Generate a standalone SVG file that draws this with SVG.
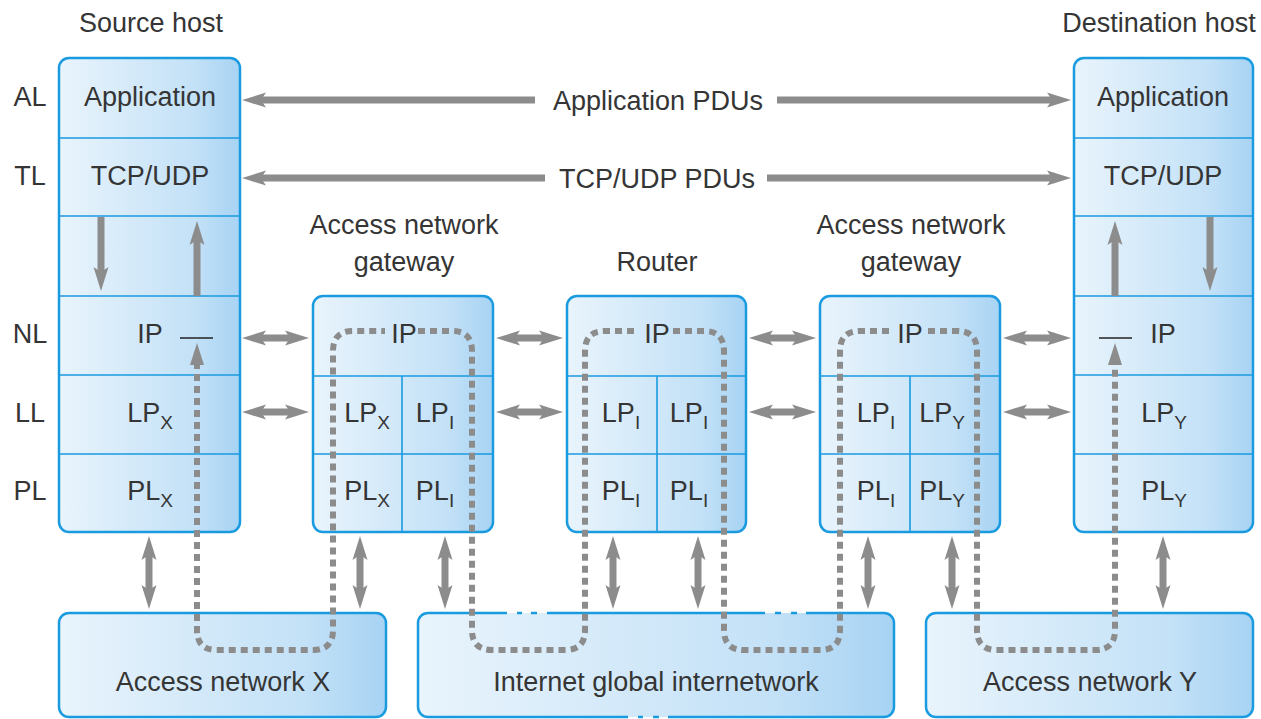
<svg xmlns="http://www.w3.org/2000/svg" width="1261" height="719" viewBox="0 0 1261 719">
<defs>
<linearGradient id="bg" x1="0" y1="0" x2="1" y2="0">
<stop offset="0" stop-color="#e9f4fc"/>
<stop offset="0.75" stop-color="#c3e1f7"/>
<stop offset="1" stop-color="#a7d3f3"/>
</linearGradient>
<marker id="ah" markerUnits="userSpaceOnUse" markerWidth="24" markerHeight="18" viewBox="0 0 24 18" refX="7" refY="9" orient="auto-start-reverse">
<path d="M0,1.5 L24,9 L0,16.5 L5,9 Z" fill="#8c8c8c"/>
</marker>
<style>
.box{fill:url(#bg);stroke:#1a9be0;stroke-width:2.5}
.fill{fill:url(#bg);stroke:none}
.edge{fill:none;stroke:#1a9be0;stroke-width:2.5}
.div{stroke:#1a9be0;stroke-width:1.6;fill:none}
.t{font-family:"Liberation Sans",Arial,sans-serif;font-size:27px;fill:#353535;text-anchor:middle}
.sub{font-size:19px}
.arr{stroke:#8c8c8c;stroke-width:7;fill:none}
.dash{stroke:#8c8c8c;stroke-width:6;fill:none;stroke-dasharray:7 5}
.tick{stroke:#222;stroke-width:1.6}
</style>
</defs>

<g id="titles">
<text class="t" x="151" y="32">Source host</text>
<text class="t" x="1159" y="32">Destination host</text>
<text class="t" x="30" y="106">AL</text>
<text class="t" x="30" y="185">TL</text>
<text class="t" x="30" y="343">NL</text>
<text class="t" x="30" y="422">LL</text>
<text class="t" x="30" y="500">PL</text>
<text class="t" x="404" y="234">Access network</text>
<text class="t" x="404" y="271">gateway</text>
<text class="t" x="657" y="271">Router</text>
<text class="t" x="911" y="234">Access network</text>
<text class="t" x="911" y="271">gateway</text>
</g>

<g id="source-host">
<rect class="box" x="59" y="58" width="181" height="474" rx="10"/>
<path class="div" d="M59,138H240M59,216H240M59,296H240M59,375H240M59,454H240"/>
<text class="t" x="150" y="106">Application</text>
<text class="t" x="150" y="185">TCP/UDP</text>
<text class="t" x="150" y="343">IP</text>
<line class="tick" x1="180" y1="338" x2="213" y2="338"/>
<text class="t" x="150" y="422">LP<tspan class="sub" dy="7">X</tspan></text>
<text class="t" x="150" y="500">PL<tspan class="sub" dy="7">X</tspan></text>
</g>

<g id="gateway-x">
<rect class="box" x="313" y="296" width="180" height="236" rx="10"/>
<path class="div" d="M313,376H493M313,454H493M402,376V532"/>
<text class="t" x="404" y="343">IP</text>
<text class="t" x="367" y="422">LP<tspan class="sub" dy="7">X</tspan></text>
<text class="t" x="367" y="500">PL<tspan class="sub" dy="7">X</tspan></text>
<text class="t" x="435" y="422">LP<tspan class="sub" dy="7">I</tspan></text>
<text class="t" x="435" y="500">PL<tspan class="sub" dy="7">I</tspan></text>
</g>

<g id="router">
<rect class="box" x="567" y="296" width="179" height="236" rx="10"/>
<path class="div" d="M567,376H746M567,454H746M657,376V532"/>
<text class="t" x="657" y="343">IP</text>
<text class="t" x="621" y="422">LP<tspan class="sub" dy="7">I</tspan></text>
<text class="t" x="621" y="500">PL<tspan class="sub" dy="7">I</tspan></text>
<text class="t" x="689" y="422">LP<tspan class="sub" dy="7">I</tspan></text>
<text class="t" x="689" y="500">PL<tspan class="sub" dy="7">I</tspan></text>
</g>

<g id="gateway-y">
<rect class="box" x="820" y="296" width="180" height="236" rx="10"/>
<path class="div" d="M820,376H1000M820,454H1000M910,376V532"/>
<text class="t" x="910" y="343">IP</text>
<text class="t" x="876" y="422">LP<tspan class="sub" dy="7">I</tspan></text>
<text class="t" x="876" y="500">PL<tspan class="sub" dy="7">I</tspan></text>
<text class="t" x="942" y="422">LP<tspan class="sub" dy="7">Y</tspan></text>
<text class="t" x="942" y="500">PL<tspan class="sub" dy="7">Y</tspan></text>
</g>

<g id="destination-host">
<rect class="box" x="1074" y="58" width="179" height="474" rx="10"/>
<path class="div" d="M1074,138H1253M1074,216H1253M1074,296H1253M1074,375H1253M1074,454H1253"/>
<text class="t" x="1163" y="106">Application</text>
<text class="t" x="1163" y="185">TCP/UDP</text>
<text class="t" x="1163" y="343">IP</text>
<line class="tick" x1="1099" y1="338" x2="1132" y2="338"/>
<text class="t" x="1164" y="422">LP<tspan class="sub" dy="7">Y</tspan></text>
<text class="t" x="1164" y="500">PL<tspan class="sub" dy="7">Y</tspan></text>
</g>

<g id="access-network-x">
<rect class="box" x="59" y="613" width="327" height="104" rx="10"/>
<text class="t" x="223" y="691">Access network X</text>
</g>

<g id="internet">
<rect class="fill" x="418" y="613" width="476" height="104" rx="10"/>
<path class="edge" d="M428,613H507M517,613H522M531,613H537M547,613H765M775,613H781M791,613H797M806,613H884A10,10 0 0 1 894,623V707A10,10 0 0 1 884,717H668M659,717H653M643,717H638M628,717H428A10,10 0 0 1 418,707V623A10,10 0 0 1 428,613"/>
<text class="t" x="656" y="691">Internet global internetwork</text>
</g>

<g id="access-network-y">
<rect class="box" x="926" y="613" width="327" height="104" rx="10"/>
<text class="t" x="1090" y="691">Access network Y</text>
</g>

<g id="connectors">
<!-- PDU arrows -->
<line class="arr" x1="259" y1="100" x2="535" y2="100" marker-start="url(#ah)"/>
<line class="arr" x1="777" y1="100" x2="1054" y2="100" marker-end="url(#ah)"/>
<text class="t" x="658" y="110">Application PDUs</text>
<line class="arr" x1="259" y1="178" x2="545" y2="178" marker-start="url(#ah)"/>
<line class="arr" x1="767" y1="178" x2="1054" y2="178" marker-end="url(#ah)"/>
<text class="t" x="657" y="188">TCP/UDP PDUs</text>
<!-- in-host vertical arrows -->
<line class="arr" x1="101" y1="217" x2="101" y2="274" marker-end="url(#ah)"/>
<line class="arr" x1="197" y1="296" x2="197" y2="238" marker-end="url(#ah)"/>
<line class="arr" x1="1115" y1="296" x2="1115" y2="238" marker-end="url(#ah)"/>
<line class="arr" x1="1210" y1="217" x2="1210" y2="274" marker-end="url(#ah)"/>
<!-- horizontal peer arrows NL / LL -->
<line class="arr" x1="259" y1="338" x2="292" y2="338" marker-start="url(#ah)" marker-end="url(#ah)"/>
<line class="arr" x1="259" y1="412" x2="292" y2="412" marker-start="url(#ah)" marker-end="url(#ah)"/>
<line class="arr" x1="513" y1="338" x2="546" y2="338" marker-start="url(#ah)" marker-end="url(#ah)"/>
<line class="arr" x1="513" y1="412" x2="546" y2="412" marker-start="url(#ah)" marker-end="url(#ah)"/>
<line class="arr" x1="766" y1="338" x2="799" y2="338" marker-start="url(#ah)" marker-end="url(#ah)"/>
<line class="arr" x1="766" y1="412" x2="799" y2="412" marker-start="url(#ah)" marker-end="url(#ah)"/>
<line class="arr" x1="1020" y1="338" x2="1054" y2="338" marker-start="url(#ah)" marker-end="url(#ah)"/>
<line class="arr" x1="1020" y1="412" x2="1054" y2="412" marker-start="url(#ah)" marker-end="url(#ah)"/>
<!-- vertical arrows to networks -->
<line class="arr" x1="149" y1="553" x2="149" y2="592" marker-start="url(#ah)" marker-end="url(#ah)"/>
<line class="arr" x1="360" y1="553" x2="360" y2="592" marker-start="url(#ah)" marker-end="url(#ah)"/>
<line class="arr" x1="445" y1="553" x2="445" y2="592" marker-start="url(#ah)" marker-end="url(#ah)"/>
<line class="arr" x1="613" y1="553" x2="613" y2="592" marker-start="url(#ah)" marker-end="url(#ah)"/>
<line class="arr" x1="698" y1="553" x2="698" y2="592" marker-start="url(#ah)" marker-end="url(#ah)"/>
<line class="arr" x1="868" y1="553" x2="868" y2="592" marker-start="url(#ah)" marker-end="url(#ah)"/>
<line class="arr" x1="952" y1="553" x2="952" y2="592" marker-start="url(#ah)" marker-end="url(#ah)"/>
<line class="arr" x1="1163" y1="553" x2="1163" y2="592" marker-start="url(#ah)" marker-end="url(#ah)"/>
<!-- dotted data path -->
<path class="dash" d="M197,362V630Q197,650 217,650H313Q333,650 333,630V351Q333,331 353,331H385M418,331H452Q472,331 472,351V630Q472,650 492,650H565Q585,650 585,630V351Q585,331 605,331H638M673,331H704Q724,331 724,351V630Q724,650 744,650H820Q840,650 840,630V351Q840,331 860,331H893M928,331H957Q977,331 977,351V630Q977,650 997,650H1095Q1115,650 1115,630V362"/>
<polygon points="197,343 190,365 204,365" fill="#8c8c8c"/>
<polygon points="1115,343 1108,365 1122,365" fill="#8c8c8c"/>
</g>
</svg>
